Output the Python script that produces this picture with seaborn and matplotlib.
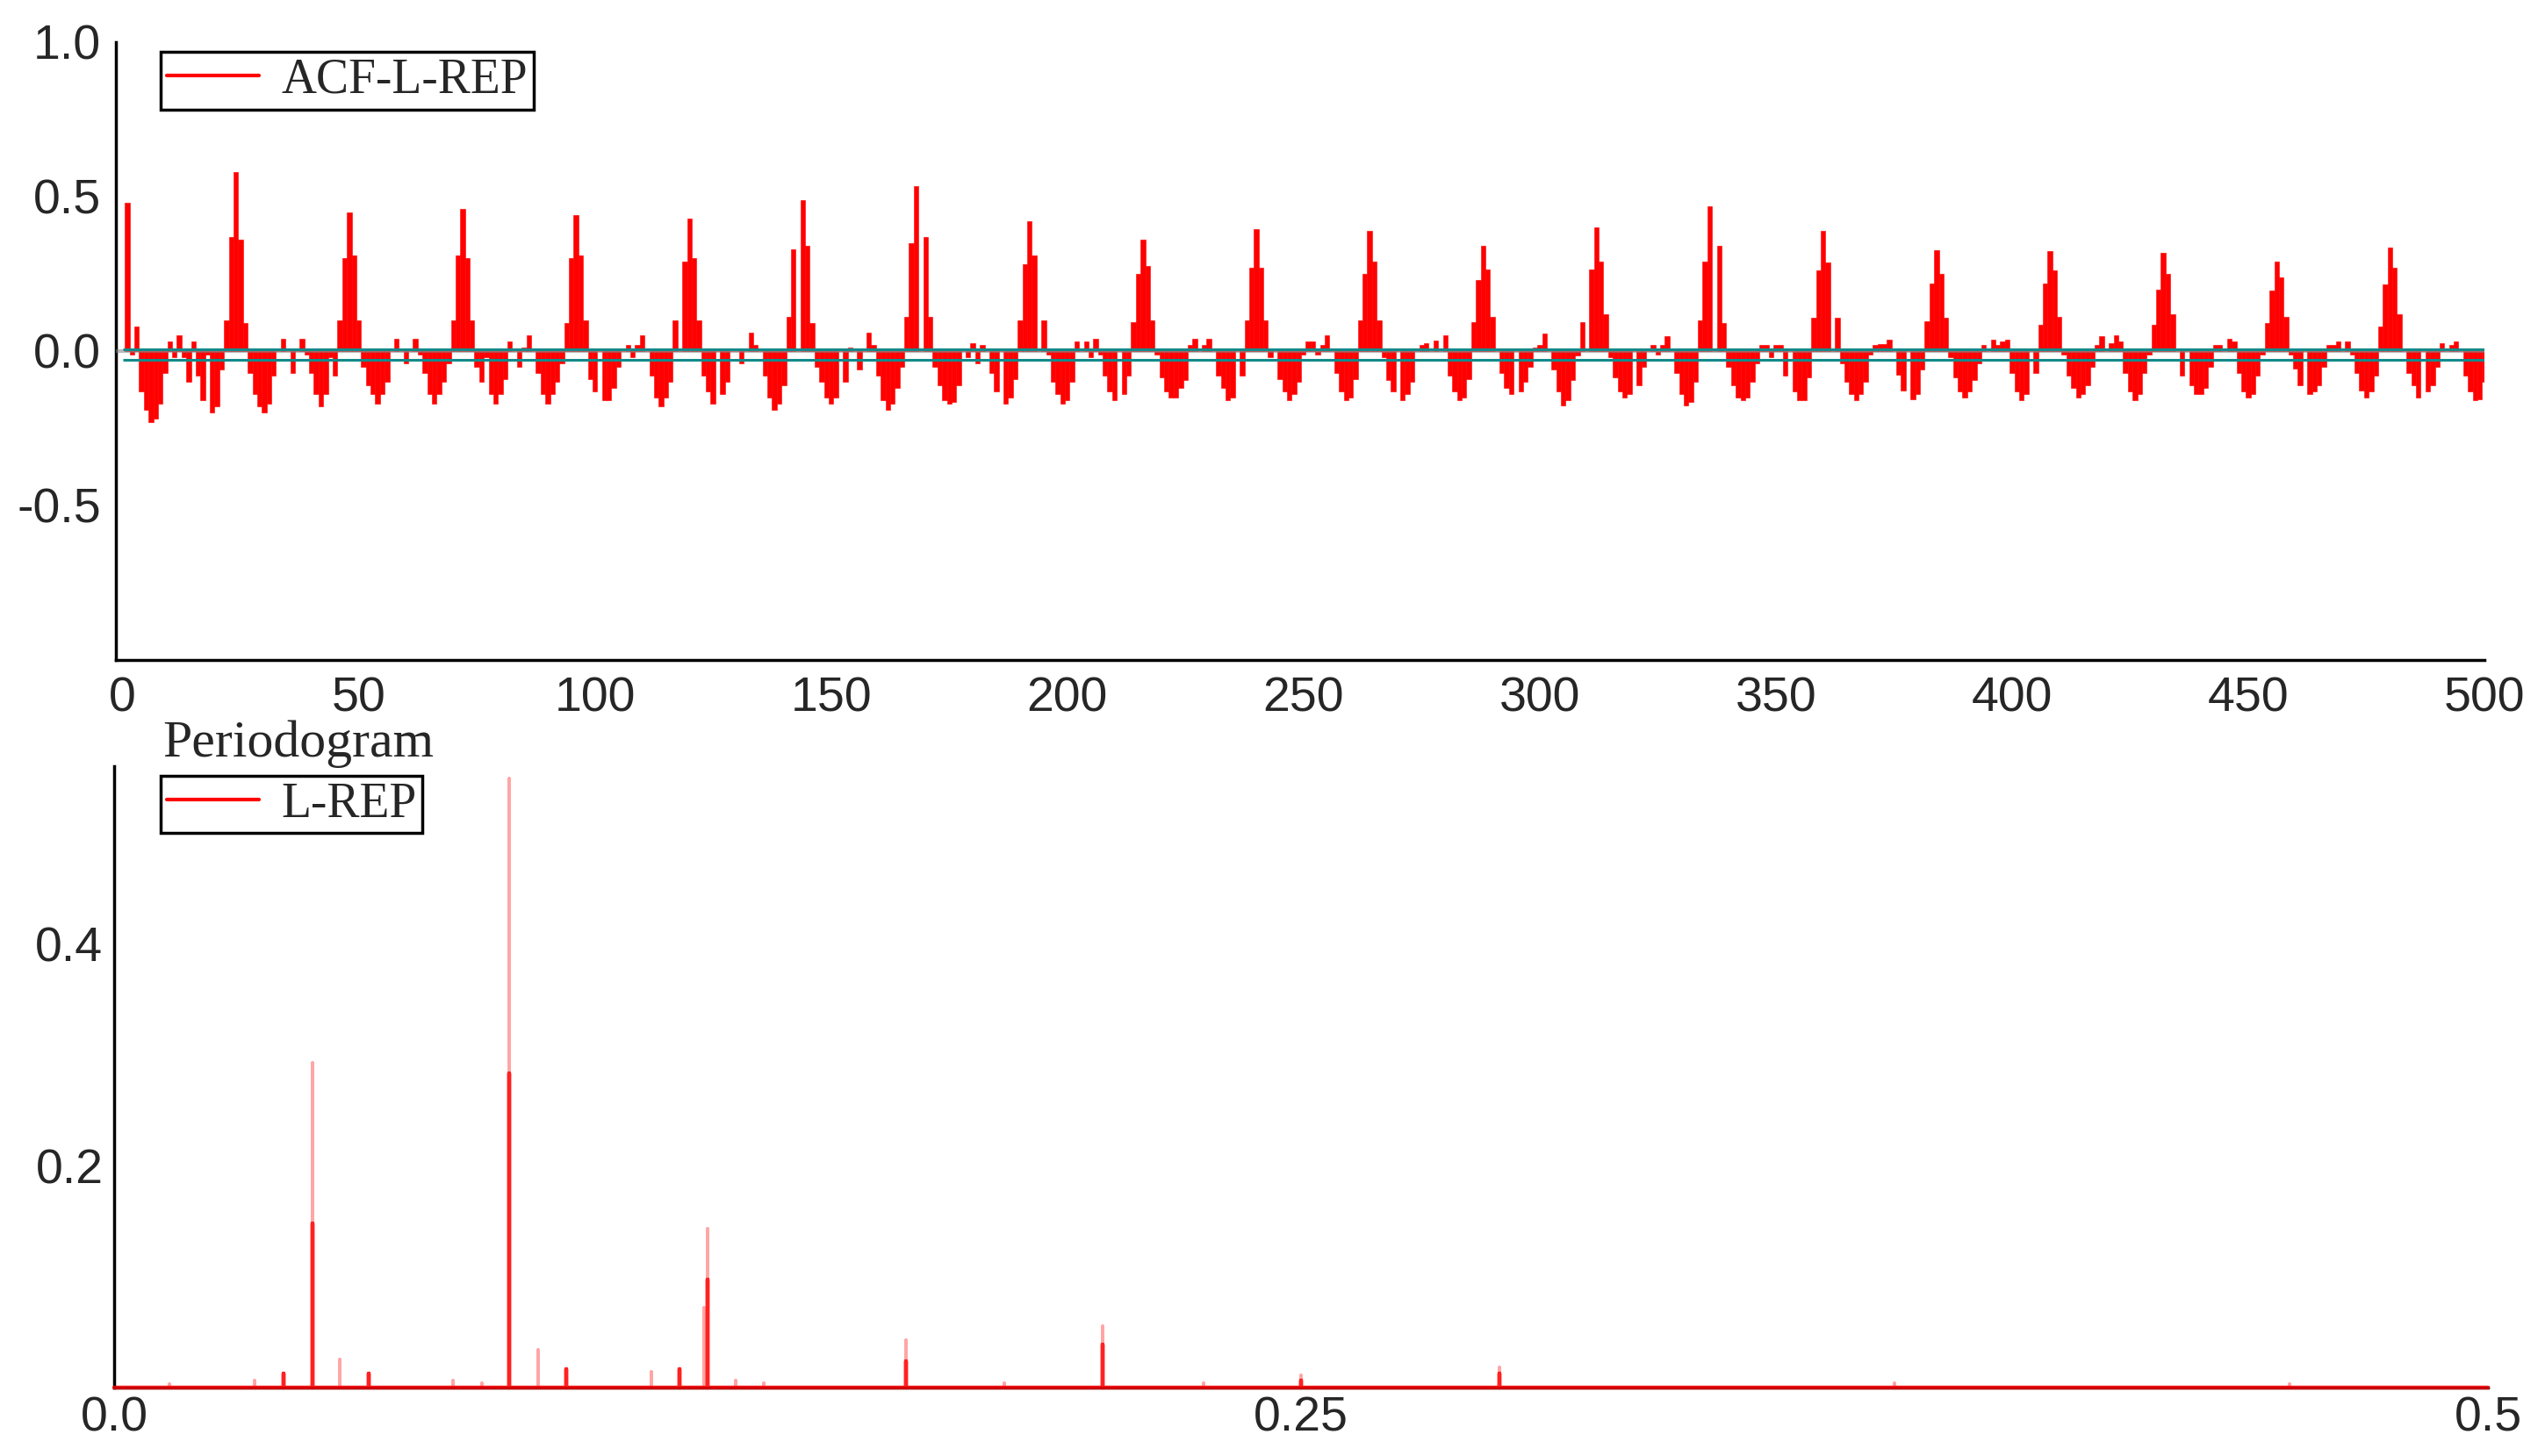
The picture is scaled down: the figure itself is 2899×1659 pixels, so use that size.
import numpy as np
import matplotlib
matplotlib.use("Agg")
import matplotlib.pyplot as plt
from matplotlib.lines import Line2D
from matplotlib.ticker import MultipleLocator, FixedLocator
import seaborn as sns

# ACF of L-REP, one 24-lag cycle at a time
acf_001_024 = [0.48, -0.01, 0.08, -0.13, -0.19, -0.23, -0.22, -0.17, -0.07, 0.03, -0.02, 0.05,
               -0.02, -0.10, 0.03, -0.08, -0.16, -0.01, -0.20, -0.18, -0.06, 0.10, 0.37, 0.58]
acf_025_048 = [0.36, 0.09, -0.07, -0.14, -0.18, -0.20, -0.17, -0.08, 0.00, 0.04, 0.00, -0.07,
               0.00, 0.04, -0.01, -0.07, -0.14, -0.18, -0.14, -0.02, -0.08, 0.10, 0.30, 0.45]
acf_049_072 = [0.31, 0.10, -0.05, -0.11, -0.14, -0.17, -0.14, -0.10, 0.00, 0.04, 0.00, -0.04,
               0.00, 0.04, -0.01, -0.07, -0.14, -0.17, -0.14, -0.10, -0.04, 0.10, 0.31, 0.46]
acf_073_096 = [0.30, 0.10, -0.05, -0.10, -0.02, -0.14, -0.17, -0.14, -0.09, 0.03, 0.00, -0.05,
               0.01, 0.05, 0.00, -0.07, -0.14, -0.17, -0.14, -0.10, -0.04, 0.09, 0.30, 0.44]
acf_097_120 = [0.31, 0.10, -0.09, -0.13, 0.00, -0.16, -0.16, -0.12, -0.05, 0.00, 0.02, -0.02,
               0.02, 0.05, 0.00, -0.08, -0.15, -0.18, -0.15, -0.10, 0.10, 0.00, 0.29, 0.43]
acf_121_144 = [0.30, 0.10, -0.08, -0.13, -0.17, 0.00, -0.14, -0.10, 0.00, 0.00, -0.04, 0.00,
               0.06, 0.02, 0.00, -0.08, -0.15, -0.19, -0.17, -0.11, 0.11, 0.33, 0.00, 0.49]
acf_145_168 = [0.34, 0.09, -0.05, -0.10, -0.15, -0.17, -0.15, 0.00, -0.10, 0.01, 0.00, -0.06,
               0.00, 0.06, 0.02, -0.08, -0.16, -0.19, -0.17, -0.12, -0.05, 0.11, 0.35, 0.535]
acf_169_192 = [0.00, 0.37, 0.11, -0.05, -0.11, -0.16, -0.17, -0.165, -0.11, 0.00, -0.02, 0.025,
               -0.04, 0.02, 0.00, -0.07, -0.13, 0.00, -0.17, -0.15, -0.09, 0.10, 0.28, 0.42]
acf_193_216 = [0.31, 0.00, 0.10, -0.01, -0.10, -0.14, -0.17, -0.16, -0.10, 0.03, 0.00, 0.03,
               -0.02, 0.04, -0.01, -0.08, -0.13, -0.16, 0.00, -0.14, -0.08, 0.095, 0.25, 0.36]
acf_217_240 = [0.275, 0.10, -0.01, -0.085, -0.13, -0.15, -0.15, -0.12, -0.095, 0.02, 0.04, 0.00,
               0.02, 0.04, 0.00, -0.08, -0.12, -0.16, -0.15, 0.00, -0.08, 0.10, 0.27, 0.395]
acf_241_264 = [0.27, 0.10, -0.02, 0.00, -0.09, -0.13, -0.16, -0.14, -0.10, -0.01, 0.03, 0.03,
               -0.01, 0.02, 0.05, 0.00, -0.07, -0.13, -0.16, -0.15, -0.09, 0.10, 0.25, 0.39]
acf_265_288 = [0.29, 0.10, -0.02, -0.095, -0.13, 0.00, -0.16, -0.14, -0.10, 0.00, 0.02, 0.025,
               0.00, 0.035, 0.00, 0.05, -0.08, -0.13, -0.16, -0.15, -0.09, 0.095, 0.23, 0.34]
acf_289_312 = [0.265, 0.11, 0.00, -0.07, -0.12, -0.14, 0.00, -0.13, -0.10, -0.05, 0.01, 0.02,
               0.057, 0.00, -0.06, -0.13, -0.175, -0.16, -0.095, -0.015, 0.095, 0.00, 0.265, 0.40]
acf_313_336 = [0.29, 0.12, -0.02, -0.085, -0.13, -0.15, -0.14, 0.00, -0.11, -0.05, 0.00, 0.02,
               -0.01, 0.02, 0.047, 0.00, -0.07, -0.14, -0.175, -0.165, -0.10, 0.10, 0.29, 0.47]
acf_337_360 = [0.00, 0.34, 0.09, -0.05, -0.11, -0.15, -0.16, -0.15, -0.10, -0.04, 0.02, 0.02,
               -0.02, 0.02, 0.02, -0.08, 0.00, -0.13, -0.16, -0.16, -0.085, 0.108, 0.26, 0.39]
acf_361_384 = [0.286, 0.00, 0.108, -0.04, -0.10, -0.14, -0.16, -0.14, -0.10, -0.01, 0.02, 0.024,
               0.024, 0.036, 0.00, -0.076, -0.128, 0.00, -0.156, -0.14, -0.06, 0.097, 0.22, 0.327]
acf_385_408 = [0.25, 0.108, -0.02, -0.085, -0.13, -0.15, -0.13, -0.095, -0.04, 0.02, 0.00, 0.036,
               0.02, 0.03, 0.036, -0.07, -0.13, -0.16, -0.14, 0.00, -0.07, 0.085, 0.22, 0.325]
acf_409_432 = [0.26, 0.11, -0.01, -0.08, -0.12, -0.15, -0.14, -0.11, -0.05, 0.02, 0.048, 0.00,
               0.025, 0.05, 0.03, -0.07, -0.13, -0.16, -0.14, -0.07, -0.01, 0.085, 0.20, 0.317]
acf_433_456 = [0.25, 0.12, 0.00, -0.08, 0.00, -0.11, -0.14, -0.14, -0.12, -0.05, 0.02, 0.02,
               0.00, 0.04, 0.03, -0.07, -0.13, -0.15, -0.14, -0.08, -0.01, 0.09, 0.197, 0.29]
acf_457_480 = [0.24, 0.11, -0.01, -0.057, -0.11, 0.00, -0.14, -0.13, -0.11, -0.05, 0.02, 0.02,
               0.03, 0.00, 0.03, -0.01, -0.07, -0.127, -0.15, -0.13, -0.08, 0.08, 0.216, 0.334]
acf_481_500 = [0.27, 0.12, 0.00, -0.07, -0.11, -0.15, 0.00, -0.13, -0.11, -0.05, 0.025, 0.00,
               0.02, 0.03, 0.00, -0.08, -0.13, -0.16, -0.155, -0.10]

# +/- band drawn in teal
band_upper = 0.007
band_lower = -0.029

# tick labels
acf_xticks = [0, 50, 100, 150, 200, 250, 300, 350, 400, 450, 500]
acf_yticks = [-0.5, 0.0, 0.5, 1.0]
per_xticks = [0.0, 0.25, 0.5]
per_yticks = [0.2, 0.4]

# periodogram of L-REP: spike frequency, thin tip height, solid core height
spike_freq = [0.0116, 0.0296, 0.0357, 0.0417, 0.0476, 0.0536, 0.0714, 0.0774, 0.0833, 0.0893,
              0.0952, 0.1131, 0.1190, 0.1243, 0.1250, 0.1310, 0.1369, 0.1667, 0.1875, 0.2083,
              0.2295, 0.2500, 0.2917, 0.3750, 0.4583]
spike_top = [0.003, 0.006, 0.013, 0.293, 0.025, 0.013, 0.006, 0.004, 0.549, 0.034,
             0.017, 0.014, 0.017, 0.072, 0.143, 0.006, 0.004, 0.043, 0.004, 0.055,
             0.004, 0.011, 0.018, 0.004, 0.003]
spike_core = [0.0, 0.0, 0.013, 0.148, 0.0, 0.013, 0.0, 0.0, 0.283, 0.0,
              0.017, 0.0, 0.017, 0.0, 0.097, 0.0, 0.0, 0.024, 0.0, 0.039,
              0.0, 0.006, 0.013, 0.0, 0.0]

acf_vals = (acf_001_024 + acf_025_048 + acf_049_072 + acf_073_096 + acf_097_120 + acf_121_144
            + acf_145_168 + acf_169_192 + acf_193_216 + acf_217_240 + acf_241_264 + acf_265_288
            + acf_289_312 + acf_313_336 + acf_337_360 + acf_361_384 + acf_385_408 + acf_409_432
            + acf_433_456 + acf_457_480 + acf_481_500)
lags = np.arange(1, len(acf_vals) + 1)

sns.set_style("white")
plt.rcParams["font.family"] = ["Liberation Sans", "DejaVu Sans"]
plt.rcParams["axes.unicode_minus"] = False

W, H = 2899, 1659
fig = plt.figure(figsize=(W / 100, H / 100), dpi=100)
ax1 = fig.add_axes([132 / W, 1 - 752 / H, (2830 - 132) / W, (752 - 48) / H])
ax2 = fig.add_axes([130 / W, 1 - 1581 / H, (2834 - 130) / W, (1581 - 873) / H])

serif = {"family": "Liberation Serif", "size": 40}

# --- ACF panel ---
sns.barplot(x=lags, y=acf_vals, native_scale=True, color="red", saturation=1,
            width=1.0, errorbar=None, linewidth=0.4, edgecolor="red", ax=ax1, zorder=2)
ax1.axhline(0, color="#808080", lw=3.0, alpha=0.55, zorder=3)
ax1.hlines([band_upper, band_lower], 0, lags.max(), color="#138a8a", lw=2.2, zorder=4)
ax1.set_xlim(-1.4, 500)
ax1.set_ylim(-1.0, 1.0)
ax1.xaxis.set_major_locator(FixedLocator(acf_xticks))
ax1.xaxis.set_minor_locator(FixedLocator([t + 25 for t in acf_xticks[:-1]]))
ax1.yaxis.set_major_locator(FixedLocator(acf_yticks))
ax1.yaxis.set_minor_locator(MultipleLocator(0.1))
ax1.set_xticklabels([str(t) for t in acf_xticks])
ax1.set_yticklabels([f"{t:.1f}" for t in acf_yticks])
ax1.tick_params(axis="x", which="major", direction="in", length=17, width=2.2, labelsize=40, pad=13)
ax1.tick_params(axis="x", which="minor", direction="in", length=10, width=2.2)
ax1.tick_params(axis="y", which="major", direction="in", length=15, width=2.2, labelsize=40, pad=12)
ax1.tick_params(axis="y", which="minor", direction="in", length=7, width=2.2)
ax1.set_xlabel("")
ax1.set_ylabel("")
leg1 = ax1.legend(handles=[Line2D([], [], color="red", lw=3)], labels=["ACF-L-REP"],
                  loc="upper left", bbox_to_anchor=(0.0189, 0.984), borderaxespad=0,
                  fancybox=False, prop=serif, handlelength=1.9, handletextpad=0.45,
                  borderpad=0.12, edgecolor="black", framealpha=1)
leg1.get_frame().set_linewidth(2.5)

# --- periodogram panel ---
core_x, core_y = [0.0], [0.0]
tip_x, tip_y = [], []
for f, t, c in zip(spike_freq, spike_top, spike_core):
    core_x += [f, f, f]
    core_y += [0.0, c, 0.0]
    tip_x += [f, f, f]
    tip_y += [0.0, t, 0.0]
core_x.append(0.5)
core_y.append(0.0)

sns.lineplot(x=tip_x, y=tip_y, sort=False, estimator=None, color="red", alpha=0.35,
             lw=2.6, ax=ax2, zorder=3)
sns.lineplot(x=core_x, y=core_y, sort=False, estimator=None, color="red", alpha=0.8,
             lw=3.2, ax=ax2, zorder=3, clip_on=False)
ax2.set_xlim(0, 0.5)
ax2.set_ylim(0, 0.56)
ax2.xaxis.set_major_locator(FixedLocator(per_xticks))
ax2.xaxis.set_minor_locator(MultipleLocator(0.125))
ax2.yaxis.set_major_locator(FixedLocator(per_yticks))
ax2.yaxis.set_minor_locator(MultipleLocator(0.04))
ax2.set_xticklabels(["0.0", "0.25", "0.5"])
ax2.set_yticklabels([f"{t:.1f}" for t in per_yticks])
ax2.tick_params(axis="x", which="major", direction="in", length=17, width=2.2, labelsize=40, pad=7)
ax2.tick_params(axis="x", which="minor", direction="in", length=10, width=2.2)
ax2.tick_params(axis="y", which="major", direction="in", length=17, width=2.2, labelsize=40, pad=9)
ax2.tick_params(axis="y", which="minor", direction="in", length=9, width=2.2)
ax2.set_xlabel("")
ax2.set_ylabel("")
leg2 = ax2.legend(handles=[Line2D([], [], color="red", lw=3)], labels=["L-REP"],
                  loc="upper left", bbox_to_anchor=(0.0196, 0.9845), borderaxespad=0,
                  fancybox=False, prop=serif, handlelength=1.9, handletextpad=0.45,
                  borderpad=0.12, edgecolor="black", framealpha=1)
leg2.get_frame().set_linewidth(2.5)

for ax in (ax1, ax2):
    sns.despine(ax=ax)
    for side in ("left", "bottom"):
        ax.spines[side].set_linewidth(2.5)
        ax.spines[side].set_color("black")

fig.text(185 / W, 1 - 862 / H, "Periodogram", fontfamily="Liberation Serif",
         fontsize=43, va="baseline")

fig.savefig("out.png", dpi=100)
